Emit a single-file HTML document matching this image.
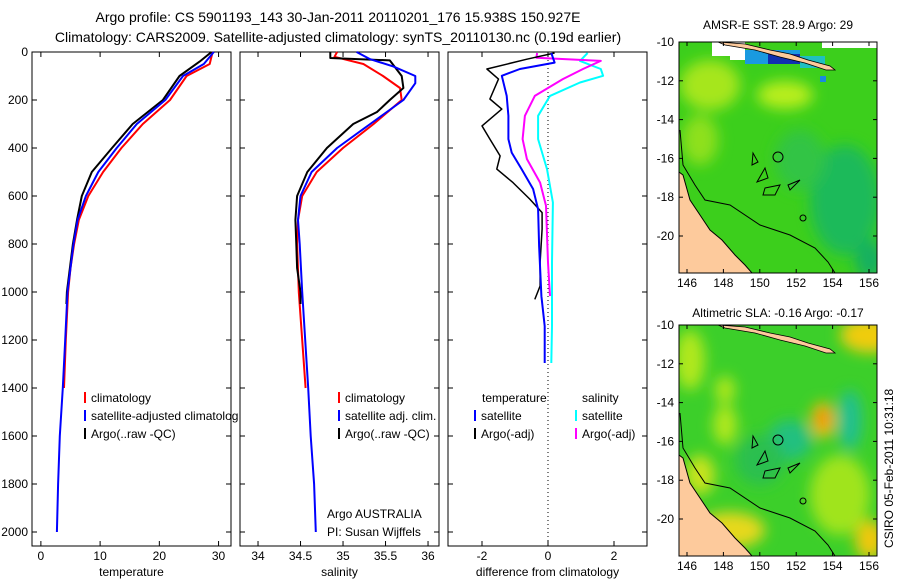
<!DOCTYPE html>
<html><head><meta charset="utf-8"><style>
body{margin:0;background:#fff}
svg{display:block;font-family:"Liberation Sans",sans-serif}
text{fill:#000}
</style></head><body>
<svg id="fig" width="900" height="580" viewBox="0 0 900 580">
<defs>
<filter id="bl" x="-50%" y="-50%" width="200%" height="200%"><feGaussianBlur stdDeviation="7"/></filter>
<clipPath id="c1"><rect x="679" y="42" width="198" height="231"/></clipPath>
<clipPath id="c2"><rect x="679" y="325" width="198" height="231"/></clipPath>
<clipPath id="p1clip"><rect x="32" y="52" width="206" height="494"/></clipPath>
</defs>
<text x="338" y="22" font-size="14" text-anchor="middle">Argo profile: CS 5901193_143 30-Jan-2011 20110201_176 15.938S 150.927E</text>
<text x="338" y="42" font-size="14" text-anchor="middle">Climatology: CARS2009. Satellite-adjusted climatology: synTS_20110130.nc (0.19d earlier)</text>
<g id="panels"></g>

<g>
<text x="778" y="29" font-size="12" text-anchor="middle">AMSR-E SST: 28.9 Argo: 29</text>
<g clip-path="url(#c1)">
<rect x="679" y="42" width="198" height="231" fill="#3ccf1c"/>
<g filter="url(#bl)">
<ellipse cx="710" cy="85" rx="30" ry="25" fill="#a6e61a"/>
<ellipse cx="785" cy="95" rx="28" ry="14" fill="#b8ee1a"/>
<ellipse cx="700" cy="140" rx="18" ry="25" fill="#8ee01a"/>
<ellipse cx="845" cy="200" rx="35" ry="55" fill="#1fba5a"/>
<ellipse cx="800" cy="160" rx="25" ry="30" fill="#30c444"/>
<ellipse cx="870" cy="260" rx="15" ry="20" fill="#12b060"/>
</g>
<path d="M712 42 H745 V60 H730 V56 H712Z" fill="#fff"/>
<path d="M822 42 H877 V48 H822Z" fill="#fff"/>
<rect x="745" y="50" width="55" height="14" fill="#1a9ae0"/>
<rect x="768" y="54" width="32" height="10" fill="#1030b0"/>
<rect x="800" y="56" width="25" height="12" fill="#20c0c0"/>
<rect x="820" y="76" width="6" height="6" fill="#1a8ae0"/>
<path d="M679 172 L683 175 L690 200 L700 215 L710 230 L722 240 L735 255 L745 265 L752 273 L679 273Z" fill="#fdca9c" stroke="#000" stroke-width="1"/>
<path d="M718 42 L745 44 L770 50 L790 54 L808 60 L830 66 L835 70 L826 70 L805 63 L780 57 L755 50 L725 45Z" fill="#fdca9c" stroke="#000" stroke-width="0.8"/>
<polyline points="680,130 683,165 695,185 705,200 730,205 760,225 790,235 815,248 828,262 835,273" fill="none" stroke="#000"/>
<circle cx="778" cy="157" r="5" fill="none" stroke="#000"/>
<circle cx="803" cy="218" r="3" fill="none" stroke="#000"/>
<path d="M753 153 L758 162 L752 165Z M765 168 L768 178 L757 182Z M765 188 L780 185 L775 195 L763 195Z M788 185 L800 180 L790 190Z" fill="none" stroke="#000"/>
</g>
<rect x="679" y="42" width="198" height="231" fill="none" stroke="#000"/>
</g>
<g>
<text x="778" y="317" font-size="12" text-anchor="middle">Altimetric SLA: -0.16 Argo: -0.17</text>
<g clip-path="url(#c2)">
<rect x="679" y="325" width="198" height="231" fill="#3ccf2a"/>
<g filter="url(#bl)">
<ellipse cx="870" cy="335" rx="30" ry="18" fill="#f0cc10"/>
<ellipse cx="690" cy="360" rx="15" ry="30" fill="#b0e81a"/>
<ellipse cx="725" cy="425" rx="12" ry="20" fill="#b0e81a"/>
<ellipse cx="725" cy="390" rx="10" ry="14" fill="#b0e81a"/>
<ellipse cx="823" cy="420" rx="12" ry="18" fill="#f8c010"/>
<ellipse cx="823" cy="418" rx="6" ry="10" fill="#f08010"/>
<ellipse cx="850" cy="420" rx="12" ry="30" fill="#20c090"/>
<ellipse cx="790" cy="440" rx="22" ry="20" fill="#20c080"/>
<ellipse cx="840" cy="495" rx="30" ry="40" fill="#a0e41a"/>
<ellipse cx="730" cy="530" rx="35" ry="18" fill="#e6d81a"/>
<ellipse cx="700" cy="475" rx="15" ry="20" fill="#c8e41a"/>
<ellipse cx="870" cy="540" rx="15" ry="20" fill="#f0c810"/>
<ellipse cx="760" cy="460" rx="25" ry="25" fill="#2cbf50"/>
</g>
<path d="M679 455 L683 458 L690 483 L700 498 L710 513 L722 523 L735 538 L745 548 L752 556 L679 556Z" fill="#fdca9c" stroke="#000"/>
<path d="M718 325 L745 327 L770 333 L790 337 L808 343 L830 349 L835 353 L826 353 L805 346 L780 340 L755 333 L725 328Z" fill="#fdca9c" stroke="#000" stroke-width="0.8"/>
<polyline points="680,413 683,448 695,468 705,483 730,488 760,508 790,518 815,531 828,545 835,556" fill="none" stroke="#000"/>
<circle cx="778" cy="440" r="5" fill="none" stroke="#000"/>
<circle cx="803" cy="501" r="3" fill="none" stroke="#000"/>
<path d="M753 436 L758 445 L752 448Z M765 451 L768 461 L757 465Z M765 471 L780 468 L775 478 L763 478Z M788 468 L800 463 L790 473Z" fill="none" stroke="#000"/>
</g>
<rect x="679" y="325" width="198" height="231" fill="none" stroke="#000"/>
</g>
<g id="mapaxes"></g>
<text transform="translate(893,548) rotate(-90)" font-size="12">CSIRO 05-Feb-2011 10:31:18</text>
</svg>
<script>
const tDepthClim=[0,50,100,200,300,400,500,600,700,800,900,1000,1200,1400];
const tClim=[29,28.5,24.6,21.8,17.2,13.6,10.5,8,6.4,5.6,5,4.6,4.2,3.9];
const tDepthSat=[0,50,100,200,300,400,500,600,700,800,900,1000,1200,1400,1600,1800,2000];
const tSat=[29.2,27.5,24,21,16.2,12.8,9.7,7.6,6.2,5.5,5,4.5,4.1,3.7,3.2,2.9,2.7];
const tDepthArgo=[0,40,100,200,300,400,500,600,700,800,900,1000,1050];
const tArgo=[28.8,26.8,23.4,20.6,15.5,12,8.6,6.9,6.1,5.4,4.9,4.4,4.3];
const sDepthClim=[0,20,50,100,150,200,300,400,500,600,700,800,1000,1400];
const sClim=[34.93,34.9,35.24,35.47,35.67,35.69,35.36,35.0,34.69,34.52,34.47,34.46,34.48,34.56];
const sDepthSat=[0,30,60,100,130,200,300,400,500,600,700,800,1000,1400,1600,1800,2000];
const sSat=[35.16,35.32,35.59,35.85,35.85,35.71,35.32,34.93,34.63,34.5,34.47,34.49,34.52,34.59,34.62,34.66,34.68];
const sDepthArgo=[0,25,35,100,150,200,250,300,400,500,600,700,800,900,1000,1050];
const sArgo=[34.85,34.85,35.55,35.69,35.71,35.55,35.4,35.12,34.81,34.58,34.46,34.44,34.45,34.46,34.5,34.5];
const dtDepthArgo=[4,30,71,113,196,238,308,363,433,488,544,613,669,738,877,975,1031];
const dtArgo=[0.2,-0.64,-1.85,-1.5,-1.76,-1.4,-2.0,-1.76,-1.45,-1.55,-1.06,-0.55,-0.18,-0.18,-0.24,-0.24,-0.4];
const dtDepthSat=[4,44,71,99,183,266,363,419,488,571,655,808,1017,1142,1296];
const dtSat=[0.1,0.2,-0.85,-1.4,-1.25,-1.2,-1.2,-1.1,-0.8,-0.45,-0.3,-0.27,-0.2,-0.1,-0.1];
const dsDepthArgo=[4,24,37,71,113,183,266,363,446,544,641,877,1017];
const dsArgo=[-0.33,-0.35,1.6,1.06,0.45,-0.4,-0.7,-0.77,-0.64,-0.24,-0.06,0.0,0.06];
const dsDepthSat=[4,37,71,99,127,183,266,363,488,627,877,1142,1296];
const dsSat=[1.2,0.97,1.6,1.67,0.97,0.06,-0.3,-0.3,-0.03,0.15,0.12,0.12,0.1];
const depthTicks=[0,200,400,600,800,1000,1200,1400,1600,1800,2000];
const tTicks=[0,10,20,30];
const sTicks=[34,34.5,35,35.5,36];
const dTicks=[-2,0,2];
const latTicks=[-10,-12,-14,-16,-18,-20];
const lonTicks=[146,148,150,152,154,156];

const NS='http://www.w3.org/2000/svg';
const root=document.getElementById('panels');
function mk(tag,attrs,parent,txt){const e=document.createElementNS(NS,tag);for(const k in attrs)e.setAttribute(k,attrs[k]);if(txt!==undefined)e.textContent=txt;(parent||root).appendChild(e);return e;}
const Y0=52,Y1=546;
const yD=d=>Y0+d*0.24;
const panels=[
 {x0:32,x1:231,min:-1.5,max:32.1,ticks:tTicks,label:'temperature',name:'temperature-panel'},
 {x0:240,x1:439,min:33.788,max:36.129,ticks:sTicks,label:'salinity',name:'salinity-panel'},
 {x0:448,x1:647,min:-3.03,max:3.0,ticks:dTicks,label:'difference from climatology',name:'difference-panel'}
];
function xf(p){return v=>p.x0+(v-p.min)/(p.max-p.min)*(p.x1-p.x0);}
panels.forEach((p,i)=>{
 const g=mk('g',{});
 
 
 const X=xf(p);
 const r=mk('rect',{x:p.x0,y:Y0,width:p.x1-p.x0,height:Y1-Y0,fill:'none',stroke:'#000'},g);
 
 
 depthTicks.forEach(d=>{
  mk('line',{x1:p.x0,x2:p.x0+5,y1:yD(d),y2:yD(d),stroke:'#000'},g);
  mk('line',{x1:p.x1,x2:p.x1-5,y1:yD(d),y2:yD(d),stroke:'#000'},g);
  if(i===0){const t=mk('text',{x:28,y:yD(d)+4,'font-size':12,'text-anchor':'end'},g,String(d));
   
   }
 });
 p.ticks.forEach(v=>{
  mk('line',{x1:X(v),x2:X(v),y1:Y1,y2:Y1-5,stroke:'#000'},g);
  mk('line',{x1:X(v),x2:X(v),y1:Y0,y2:Y0+5,stroke:'#000'},g);
  const t=mk('text',{x:X(v),y:560,'font-size':12,'text-anchor':'middle'},g,String(v));
  
  
 });
 const xl=mk('text',{x:(p.x0+p.x1)/2,y:576,'font-size':12,'text-anchor':'middle'},g,p.label);
 
 
 p.g=g;p.X=X;
});
function line(p,depths,vals,color,name,w){
 const pts=depths.map((d,k)=>p.X(vals[k]).toFixed(1)+','+yD(d).toFixed(1)).join(' ');
 const l=mk('polyline',{points:pts,fill:'none',stroke:color,'stroke-width':w||2,'stroke-linejoin':'round'},p.g);
 
 
}
const P=panels;
const zl=mk('line',{x1:P[2].X(0),x2:P[2].X(0),y1:Y0,y2:Y1,stroke:'#000','stroke-dasharray':'1,3'},P[2].g);


line(P[0],tDepthClim,tClim,'#f00','temp-climatology-line');
line(P[0],tDepthArgo,tArgo,'#000','temp-argo-line');
line(P[0],tDepthSat,tSat,'#00f','temp-satellite-line');
line(P[1],sDepthClim,sClim,'#f00','sal-climatology-line');
line(P[1],sDepthArgo,sArgo,'#000','sal-argo-line');
line(P[1],sDepthSat,sSat,'#00f','sal-satellite-line');
line(P[2],dsDepthSat,dsSat,'#0ff','sal-diff-satellite-line');
line(P[2],dsDepthArgo,dsArgo,'#f0f','sal-diff-argo-line');
line(P[2],dtDepthArgo,dtArgo,'#000','temp-diff-argo-line',1.5);
line(P[2],dtDepthSat,dtSat,'#00f','temp-diff-satellite-line');
const lg1=mk('g',{'clip-path':'url(#p1clip)'},P[0].g);
function leg(g,x,y,color,label){
 if(color)mk('rect',{x:x,y:y-10,width:2,height:11,fill:color},g);
 const t=mk('text',{x:x+7,y:y,'font-size':12},g,label);
 
 
}
leg(lg1,84,402,'#f00','climatology');
leg(lg1,84,420,'#00f','satellite-adjusted climatology');
leg(lg1,84,438,'#000','Argo(..raw -QC)');
leg(P[1].g,338,402,'#f00','climatology');
leg(P[1].g,338,420,'#00f','satellite adj. clim.');
leg(P[1].g,338,438,'#000','Argo(..raw -QC)');
leg(P[2].g,475,402,null,'temperature');
leg(P[2].g,474,420,'#00f','satellite');
leg(P[2].g,474,438,'#000','Argo(-adj)');
leg(P[2].g,575,402,null,'salinity');
leg(P[2].g,575,420,'#0ff','satellite');
leg(P[2].g,575,438,'#f0f','Argo(-adj)');
const a1=mk('text',{x:327,y:518,'font-size':12},P[1].g,'Argo AUSTRALIA');


const a2=mk('text',{x:327,y:536,'font-size':12},P[1].g,'PI: Susan Wijffels');


const mroot=document.getElementById('mapaxes');
[[42,'sst'],[325,'sla']].forEach(([top,nm])=>{
 const lat=v=>top+(-10-v)*19.4;
 const lon=v=>687+(v-146)*18.2;
 latTicks.forEach(v=>{
  mk('line',{x1:679,x2:683,y1:lat(v),y2:lat(v),stroke:'#000'},mroot);
  mk('line',{x1:877,x2:873,y1:lat(v),y2:lat(v),stroke:'#000'},mroot);
  const t=mk('text',{x:674,y:lat(v)+4,'font-size':12,'text-anchor':'end'},mroot,String(v));
  
  
 });
 lonTicks.forEach(v=>{
  mk('line',{x1:lon(v),x2:lon(v),y1:top+231,y2:top+227,stroke:'#000'},mroot);
  mk('line',{x1:lon(v),x2:lon(v),y1:top,y2:top+4,stroke:'#000'},mroot);
  const t=mk('text',{x:lon(v),y:top+245,'font-size':12,'text-anchor':'middle'},mroot,String(v));
  
  
 });
});
</script>
</body></html>
